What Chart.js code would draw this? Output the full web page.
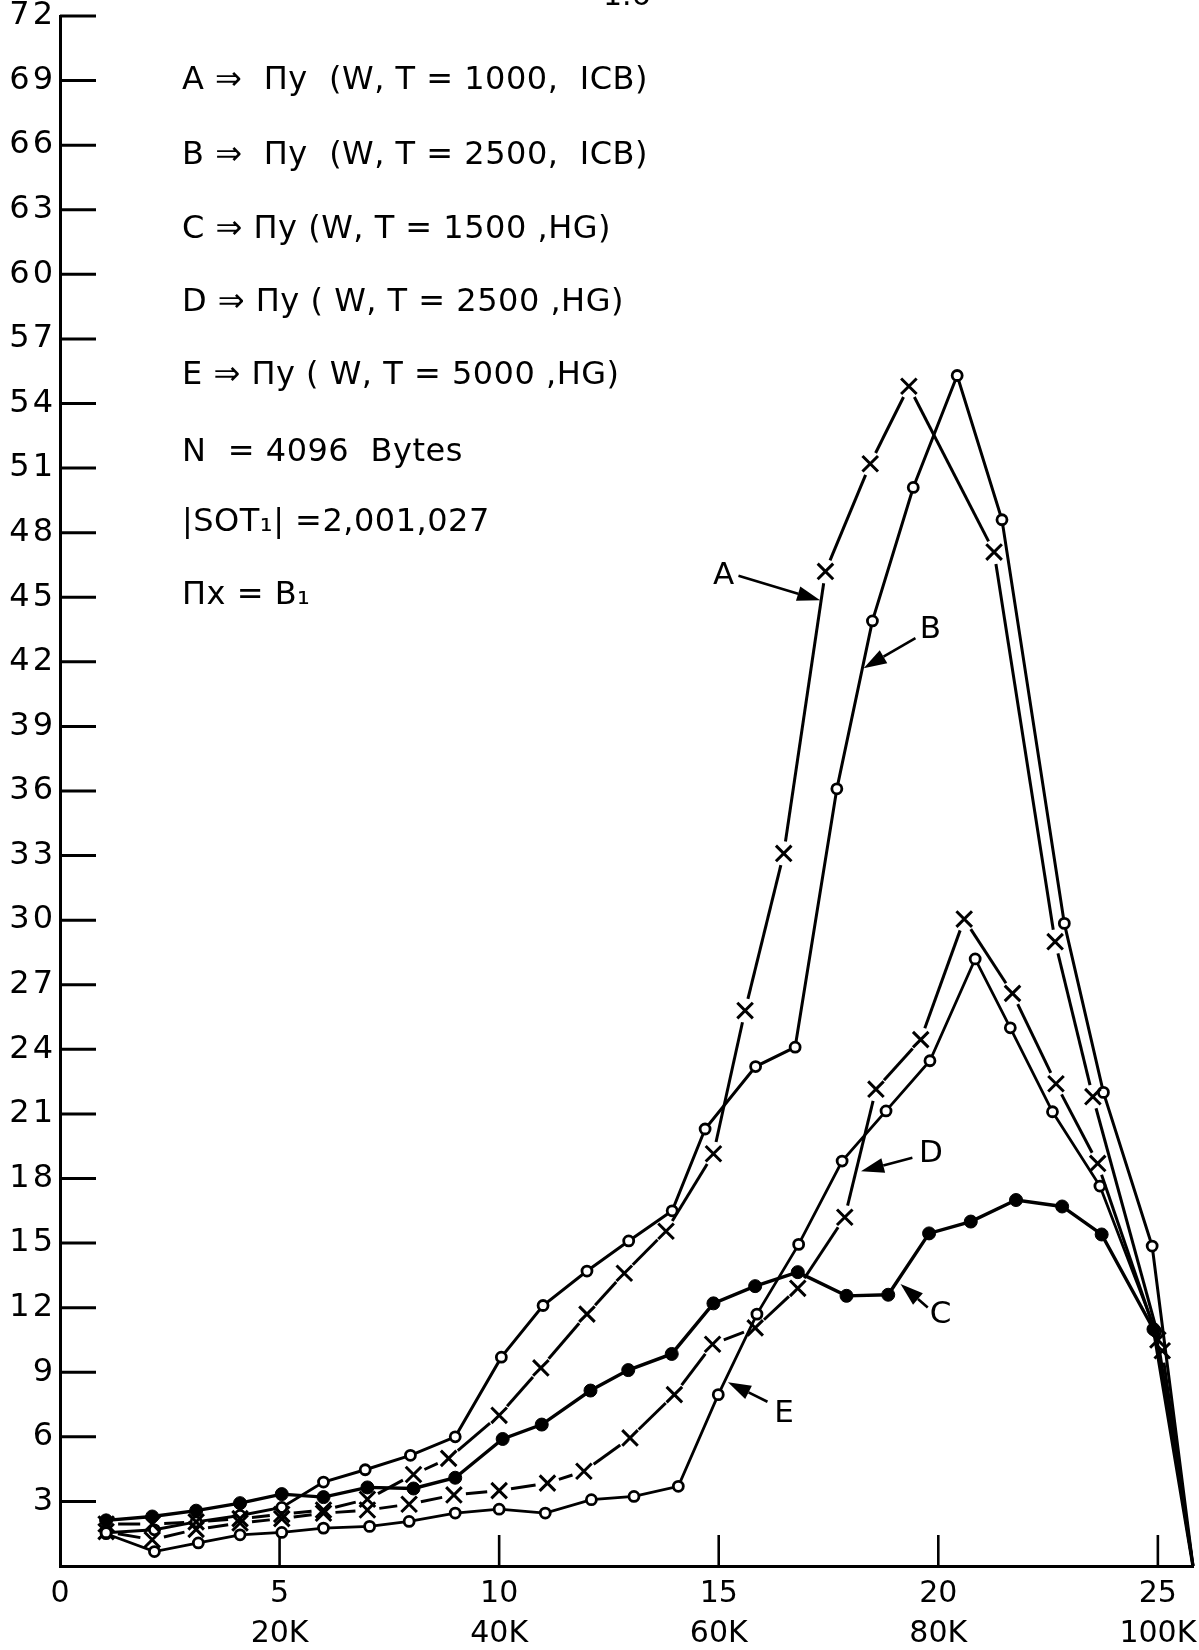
<!DOCTYPE html>
<html>
<head>
<meta charset="utf-8">
<script src="https://cdn.jsdelivr.net/npm/chart.js@4.4.1/dist/chart.umd.min.js"></script>
<style>
  html, body { margin: 0; padding: 0; background: #ffffff; }
  #wrap { width: 1199px; height: 1650px; position: relative; }
  canvas { display: block; }
</style>
</head>
<body>
<div id="wrap"><canvas id="chart" width="1199" height="1650" style="width:1199px;height:1650px"></canvas></div>
<script>
// ---------- tick labels ----------
const xTickValues = [0, 5, 10, 15, 20, 25];
const xTickLabels = ['0', '5', '10', '15', '20', '25'];
const xTickSubLabels = ['', '20K', '40K', '60K', '80K', '100K'];
const yTickValues = [3, 6, 9, 12, 15, 18, 21, 24, 27, 30, 33, 36, 39, 42, 45, 48, 51, 54, 57, 60, 63, 66, 69, 72];

// ---------- series A : Πy (W, T=1000, ICB) ----------
const aX = [1.05, 2.1, 3.1, 4.1, 5.05, 6.0, 7.0, 8.05, 8.85, 10.0, 10.95, 12.0, 12.85, 13.8, 14.88, 15.6, 16.48, 17.43, 18.45, 19.33, 21.27, 22.66, 23.52, 25.1, 25.8];
const aY = [1.95, 1.95, 2.05, 2.2, 2.4, 2.6, 3.1, 4.25, 5.0, 7.0, 9.2, 11.7, 13.6, 15.55, 19.15, 25.8, 33.1, 46.2, 51.2, 54.8, 47.1, 29.0, 21.8, 10.0, 0];

// ---------- series B : Πy (W, T=2500, ICB) ----------
const bX = [1.05, 2.15, 3.1, 4.1, 5.05, 6.0, 6.95, 7.98, 9.0, 10.05, 11.0, 12.0, 12.95, 13.94, 14.69, 15.84, 16.74, 17.69, 18.5, 19.43, 20.43, 21.45, 22.87, 23.76, 24.87, 25.8];
const bY = [1.55, 1.68, 2.05, 2.35, 2.72, 3.9, 4.47, 5.14, 6.0, 9.7, 12.1, 13.7, 15.1, 16.5, 20.3, 23.2, 24.1, 36.1, 43.9, 50.1, 55.3, 48.6, 29.85, 22.0, 14.86, 0];

// ---------- series C : Πy (W, T=1500, HG) ----------
const cX = [1.05, 2.1, 3.1, 4.1, 5.05, 6.0, 7.0, 8.05, 9.0, 10.08, 10.97, 12.08, 12.94, 13.93, 14.88, 15.83, 16.8, 17.91, 18.86, 19.79, 20.74, 21.77, 22.82, 23.72, 24.9, 25.8];
const cY = [2.12, 2.3, 2.57, 2.92, 3.34, 3.2, 3.65, 3.6, 4.1, 5.9, 6.57, 8.15, 9.1, 9.85, 12.2, 13.0, 13.65, 12.55, 12.6, 15.45, 16.0, 17.0, 16.7, 15.4, 11.0, 0];

// ---------- series D : Πy (W, T=2500, HG) ----------
const dX = [1.05, 2.1, 3.1, 4.1, 5.05, 6.0, 7.0, 7.95, 8.97, 10.0, 11.1, 11.93, 12.98, 13.99, 14.86, 15.83, 16.8, 17.87, 18.58, 19.6, 20.59, 21.69, 22.68, 23.63, 25.0, 25.8];
const dY = [1.6, 1.22, 1.7, 2.0, 2.2, 2.45, 2.6, 2.87, 3.3, 3.5, 3.85, 4.4, 5.95, 7.96, 10.3, 11.06, 12.9, 16.2, 22.15, 24.45, 30.05, 26.6, 22.4, 18.7, 10.5, 0];

// ---------- series E : Πy (W, T=5000, HG) ----------
const eX = [1.05, 2.15, 3.15, 4.1, 5.05, 6.0, 7.05, 7.95, 9.0, 10.0, 11.05, 12.1, 13.07, 14.08, 14.99, 15.87, 16.82, 17.81, 18.81, 19.81, 20.84, 21.64, 22.6, 23.68, 24.95, 25.8];
const eY = [1.5, 0.67, 1.07, 1.45, 1.56, 1.76, 1.84, 2.07, 2.46, 2.64, 2.46, 3.08, 3.23, 3.7, 7.96, 11.7, 14.94, 18.81, 21.14, 23.47, 28.2, 25.0, 21.1, 17.65, 10.9, 0];

// ---------- annotation text ----------
const legendLines = [
  'A ⇒  Πy  (W, T = 1000,  ICB)',
  'B ⇒  Πy  (W, T = 2500,  ICB)',
  'C ⇒ Πy (W, T = 1500 ,HG)',
  'D ⇒ Πy ( W, T = 2500 ,HG)',
  'E ⇒ Πy ( W, T = 5000 ,HG)',
  'N  = 4096  Bytes',
  '|SOT₁| =2,001,027',
  'Πx = B₁'
];
const seriesNames = ['A', 'B', 'C', 'D', 'E'];
const pageMark = '1.6';

// label & arrow placement (in data units)
const callout = {
  labelX: [15.11, 19.82, 20.05, 19.83, 16.49],
  labelY: [46.0, 43.47, 11.68, 19.12, 7.05],
  fromX: [15.45, 19.48, 19.76, 19.41, 16.11],
  fromY: [46.0, 43.1, 12.01, 18.96, 7.63],
  toX: [17.31, 18.3, 19.14, 18.24, 15.21],
  toY: [44.86, 41.7, 13.1, 18.34, 8.54]
};

// ---------- helpers ----------
const pts = (xs, ys) => xs.map((x, i) => ({ x: x, y: ys[i] }));
const GAP = 12;
const segLen = c => Math.hypot(c.p1.x - c.p0.x, c.p1.y - c.p0.y);
const gapSegment = {
  borderDash: c => { const d = Math.max(segLen(c) - 2 * GAP, 0.01); return [d, 2 * GAP + 4000]; },
  borderDashOffset: c => { const d = Math.max(segLen(c) - 2 * GAP, 0.01); return d + 2 * GAP + 4000 - GAP; }
};
const lastZero = (r) => (ctx) => (ctx.dataIndex === ctx.dataset.data.length - 1 ? 0 : r);

const FONT = 'DejaVu Sans';
const hasSpacing = (() => { try { return 'letterSpacing' in document.createElement('canvas').getContext('2d'); } catch (e) { return false; } })();

const tickPlugin = {
  id: 'inwardTicks',
  beforeDatasetsDraw(chart) {
    const { ctx, scales, chartArea } = chart;
    ctx.save();
    ctx.strokeStyle = '#000';
    ctx.lineWidth = 3;
    yTickValues.forEach(v => {
      const py = scales.y.getPixelForValue(v);
      ctx.beginPath();
      ctx.moveTo(chartArea.left, py);
      ctx.lineTo(chartArea.left + 36, py);
      ctx.stroke();
    });
    ctx.lineWidth = 2.6;
    xTickValues.forEach(v => {
      if (v === 0) return;
      const px = scales.x.getPixelForValue(v);
      ctx.beginPath();
      ctx.moveTo(px, chartArea.bottom);
      ctx.lineTo(px, chartArea.bottom - 31);
      ctx.stroke();
    });
    ctx.restore();
  }
};

const textPlugin = {
  id: 'textNotes',
  afterDatasetsDraw(chart) {
    const { ctx, scales } = chart;
    ctx.save();
    ctx.fillStyle = '#000';
    ctx.strokeStyle = '#000';
    // legend block
    ctx.font = '32px "' + FONT + '"';
    if (hasSpacing) ctx.letterSpacing = '0.5px';
    ctx.textAlign = 'left';
    ctx.textBaseline = 'alphabetic';
    const baseY = [89, 164, 238, 311, 384, 461, 531, 604];
    legendLines.forEach((t, i) => ctx.fillText(t, 182, baseY[i]));
    if (hasSpacing) ctx.letterSpacing = '0px';
    // cut-off page mark at the very top
    ctx.font = '30px "' + FONT + '"';
    ctx.fillText(pageMark, 603, 5);
    // callouts
    ctx.font = '31px "' + FONT + '"';
    ctx.textAlign = 'center';
    ctx.textBaseline = 'middle';
    seriesNames.forEach((n, i) => {
      const lx = scales.x.getPixelForValue(callout.labelX[i]);
      const ly = scales.y.getPixelForValue(callout.labelY[i]);
      ctx.fillText(n, lx, ly);
      const x0 = scales.x.getPixelForValue(callout.fromX[i]);
      const y0 = scales.y.getPixelForValue(callout.fromY[i]);
      const x1 = scales.x.getPixelForValue(callout.toX[i]);
      const y1 = scales.y.getPixelForValue(callout.toY[i]);
      const ang = Math.atan2(y1 - y0, x1 - x0);
      const hl = 23, hw = 7.5;
      const bx = x1 - hl * Math.cos(ang), by = y1 - hl * Math.sin(ang);
      ctx.lineWidth = 2.6;
      ctx.beginPath();
      ctx.moveTo(x0, y0);
      ctx.lineTo(bx, by);
      ctx.stroke();
      ctx.beginPath();
      ctx.moveTo(x1, y1);
      ctx.lineTo(bx + hw * Math.sin(ang), by - hw * Math.cos(ang));
      ctx.lineTo(bx - hw * Math.sin(ang), by + hw * Math.cos(ang));
      ctx.closePath();
      ctx.fill();
    });
    ctx.restore();
    // slightly wider digit spacing for the y-axis labels, which are drawn next (ticks.z = 1)
    if (hasSpacing) ctx.letterSpacing = '3px';
  },
  afterDraw(chart) {
    if (hasSpacing) chart.ctx.letterSpacing = '0px';
  }
};

const common = {
  borderColor: '#000',
  borderWidth: 3,
  tension: 0,
  fill: false,
  clip: false,
  pointBorderColor: '#000',
  pointHoverRadius: 0
};

const datasets = [
  Object.assign({}, common, {
    label: 'A', data: pts(aX, aY),
    pointStyle: 'crossRot', pointRadius: lastZero(11), pointBorderWidth: 3,
    pointBackgroundColor: '#000', segment: gapSegment
  }),
  Object.assign({}, common, {
    label: 'B', data: pts(bX, bY),
    pointStyle: 'circle', pointRadius: lastZero(5), pointBorderWidth: 2.8,
    pointBackgroundColor: '#fff'
  }),
  Object.assign({}, common, {
    label: 'C', data: pts(cX, cY), borderWidth: 3.4,
    pointStyle: 'circle', pointRadius: lastZero(6.5), pointBorderWidth: 1,
    pointBackgroundColor: '#000'
  }),
  Object.assign({}, common, {
    label: 'D', data: pts(dX, dY),
    pointStyle: 'crossRot', pointRadius: lastZero(11), pointBorderWidth: 3,
    pointBackgroundColor: '#000', segment: gapSegment
  }),
  Object.assign({}, common, {
    label: 'E', data: pts(eX, eY), borderWidth: 2.8,
    pointStyle: 'circle', pointRadius: lastZero(5), pointBorderWidth: 2.8,
    pointBackgroundColor: '#fff'
  })
];

Chart.defaults.font.family = FONT;
Chart.defaults.color = '#000';

new Chart(document.getElementById('chart'), {
  type: 'line',
  data: { datasets: datasets },
  options: {
    responsive: false,
    devicePixelRatio: 1,
    animation: false,
    events: [],
    layout: { autoPadding: false, padding: { top: 16, right: 6, bottom: 0, left: 0 } },
    plugins: { legend: { display: false }, tooltip: { enabled: false } },
    scales: {
      x: {
        type: 'linear', min: 0, max: 25.8, position: 'bottom',
        afterBuildTicks: s => { s.ticks = xTickValues.map(v => ({ value: v })); },
        afterFit: s => { s.height = 84; s.paddingLeft = 0; s.paddingRight = 0; },
        grid: { display: true, drawOnChartArea: false, drawTicks: false },
        border: { display: true, color: '#000', width: 3 },
        ticks: {
          autoSkip: false, maxRotation: 0, minRotation: 0, color: '#000', padding: 8,
          font: { family: FONT, size: 30, lineHeight: 1.33 },
          callback: v => { const i = xTickValues.indexOf(v); return [xTickLabels[i], xTickSubLabels[i]]; }
        }
      },
      y: {
        type: 'linear', min: 0, max: 72, position: 'left',
        afterBuildTicks: s => { s.ticks = yTickValues.map(v => ({ value: v })); },
        afterFit: s => { s.width = 60; s.paddingTop = 0; s.paddingBottom = 0; },
        grid: { display: true, drawOnChartArea: false, drawTicks: false },
        border: { display: true, color: '#000', width: 3 },
        ticks: {
          z: 1, autoSkip: false, color: '#000', padding: hasSpacing ? 4 : 7,
          font: { family: FONT, size: 32, lineHeight: 0.9 },
          callback: v => String(v)
        }
      }
    }
  },
  plugins: [tickPlugin, textPlugin]
});
</script>
</body>
</html>
